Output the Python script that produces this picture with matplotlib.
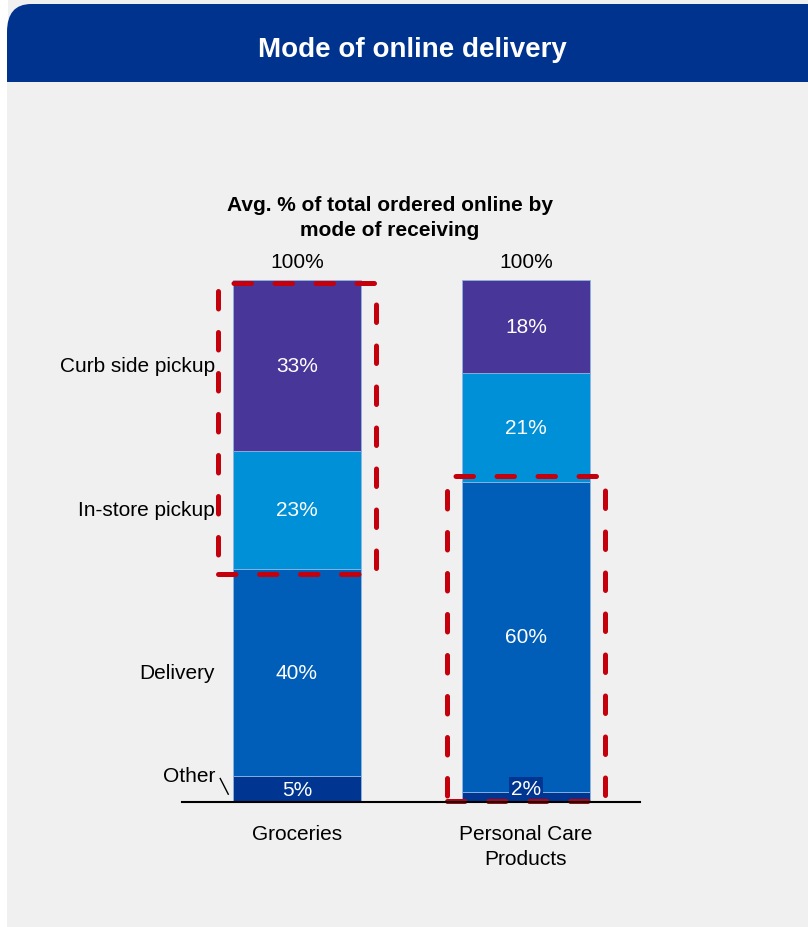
import numpy as np
import matplotlib
matplotlib.use("Agg")
import matplotlib.pyplot as plt
from matplotlib.patches import FancyBboxPatch, Rectangle

# data
categories = ["Groceries", "Personal Care\nProducts"]
modes = ["Other", "Delivery", "In-store pickup", "Curb side pickup"]
other = [5, 2]
delivery = [40, 60]
instore = [23, 21]
curbside = [33, 18]
totals_label = ["100%", "100%"]
colours = ["#003591", "#005eb8", "#0090d8", "#483698"]

plt.rcParams['font.family'] = ['Liberation Sans', 'DejaVu Sans']

fig = plt.figure(figsize=(8.08, 9.28), dpi=100)
W, H = 808, 928

# background panel + rounded header
fig.patches.append(Rectangle((8 / W, 0), 1, 1, transform=fig.transFigure,
                             facecolor="#f0f0f0", edgecolor="none", zorder=-3))
fig.patches.append(FancyBboxPatch((7 / W, (H - 120) / H), 830 / W, 115 / H,
                                  boxstyle="round,pad=0,rounding_size=0.03",
                                  transform=fig.transFigure, facecolor="#00338d",
                                  edgecolor="none", zorder=-2))
fig.patches.append(Rectangle((7 / W, 0), 1, (H - 83) / H, transform=fig.transFigure,
                             facecolor="#f0f0f0", edgecolor="none", zorder=-1))
fig.text(412 / W, 1 - 50 / H, "Mode of online delivery", color="white",
         fontsize=20, fontweight="bold", ha="center", va="center", zorder=3)

fig.text(390 / W, 1 - 218 / H, "Avg. % of total ordered online by\nmode of receiving",
         fontsize=15, fontweight="bold", ha="center", va="center", linespacing=1.35)

ax = fig.add_axes([182 / W, (H - 803) / H, 458 / W, 522 / H])
ax.set_zorder(10)
ax.set_facecolor("none")
ax.set_xlim(-0.502, 1.498)
ax.set_ylim(0, 100)

series = np.array([other, delivery, instore, curbside], dtype=float)
shares = series / series.sum(axis=0) * 100
x = np.arange(len(categories))
width = 0.559
bottom = np.zeros(len(categories))
for i, (row, lab_row) in enumerate(zip(shares, series)):
    ax.bar(x, row, width, bottom=bottom, color=colours[i],
           edgecolor="#8fb4e0", linewidth=0.6, zorder=2)
    for j in range(len(categories)):
        yc = bottom[j] + row[j] / 2
        kw = {}
        if row[j] < 3:
            yc = max(yc, 2.5)
            kw = dict(bbox=dict(boxstyle="square,pad=0.1", facecolor=colours[i],
                                edgecolor="none"))
        ax.text(x[j], yc, f"{lab_row[j]:.0f}%", color="white", fontsize=15,
                ha="center", va="center", zorder=4, **kw)
    bottom += row

for j in range(len(categories)):
    ax.text(x[j], 103.5, totals_label[j], fontsize=15, ha="center", va="center")

# labels for segments, on the left of the first bar
cum = np.vstack([np.zeros(len(categories)), np.cumsum(shares, axis=0)])
for i, m in enumerate(modes):
    yc = (cum[i, 0] + cum[i + 1, 0]) / 2
    if m == "Other":
        yc = 5
        ax.plot([-0.335, -0.30], [4.5, 1.5], color="black", lw=1, clip_on=False)
    ax.text(-0.358, yc, m, fontsize=15, ha="right", va="center")

# red dashed highlight boxes
red = dict(fill=False, edgecolor="#c4000c", linewidth=3.6,
           linestyle=(0, (3.5, 4.7)), capstyle="round", clip_on=False, zorder=5)
pad = 0.065
ax.add_patch(Rectangle((x[0] - width / 2 - pad, cum[2, 0] - 0.8),
                       width + 2 * pad, cum[4, 0] - cum[2, 0] + 0.2, **red))
ax.add_patch(Rectangle((x[1] - width / 2 - pad, 0.1),
                       width + 2 * pad, cum[2, 1] + 1.0, **red))

ax.set_xticks(x)
ax.set_xticklabels(categories, fontsize=15, linespacing=1.4)
ax.tick_params(axis="x", length=0, pad=16)
ax.set_yticks([])
for s in ["left", "right", "top"]:
    ax.spines[s].set_visible(False)
ax.spines["bottom"].set_linewidth(1.5)
ax.spines["bottom"].set_zorder(6)

fig.savefig("out.png", dpi=100)
